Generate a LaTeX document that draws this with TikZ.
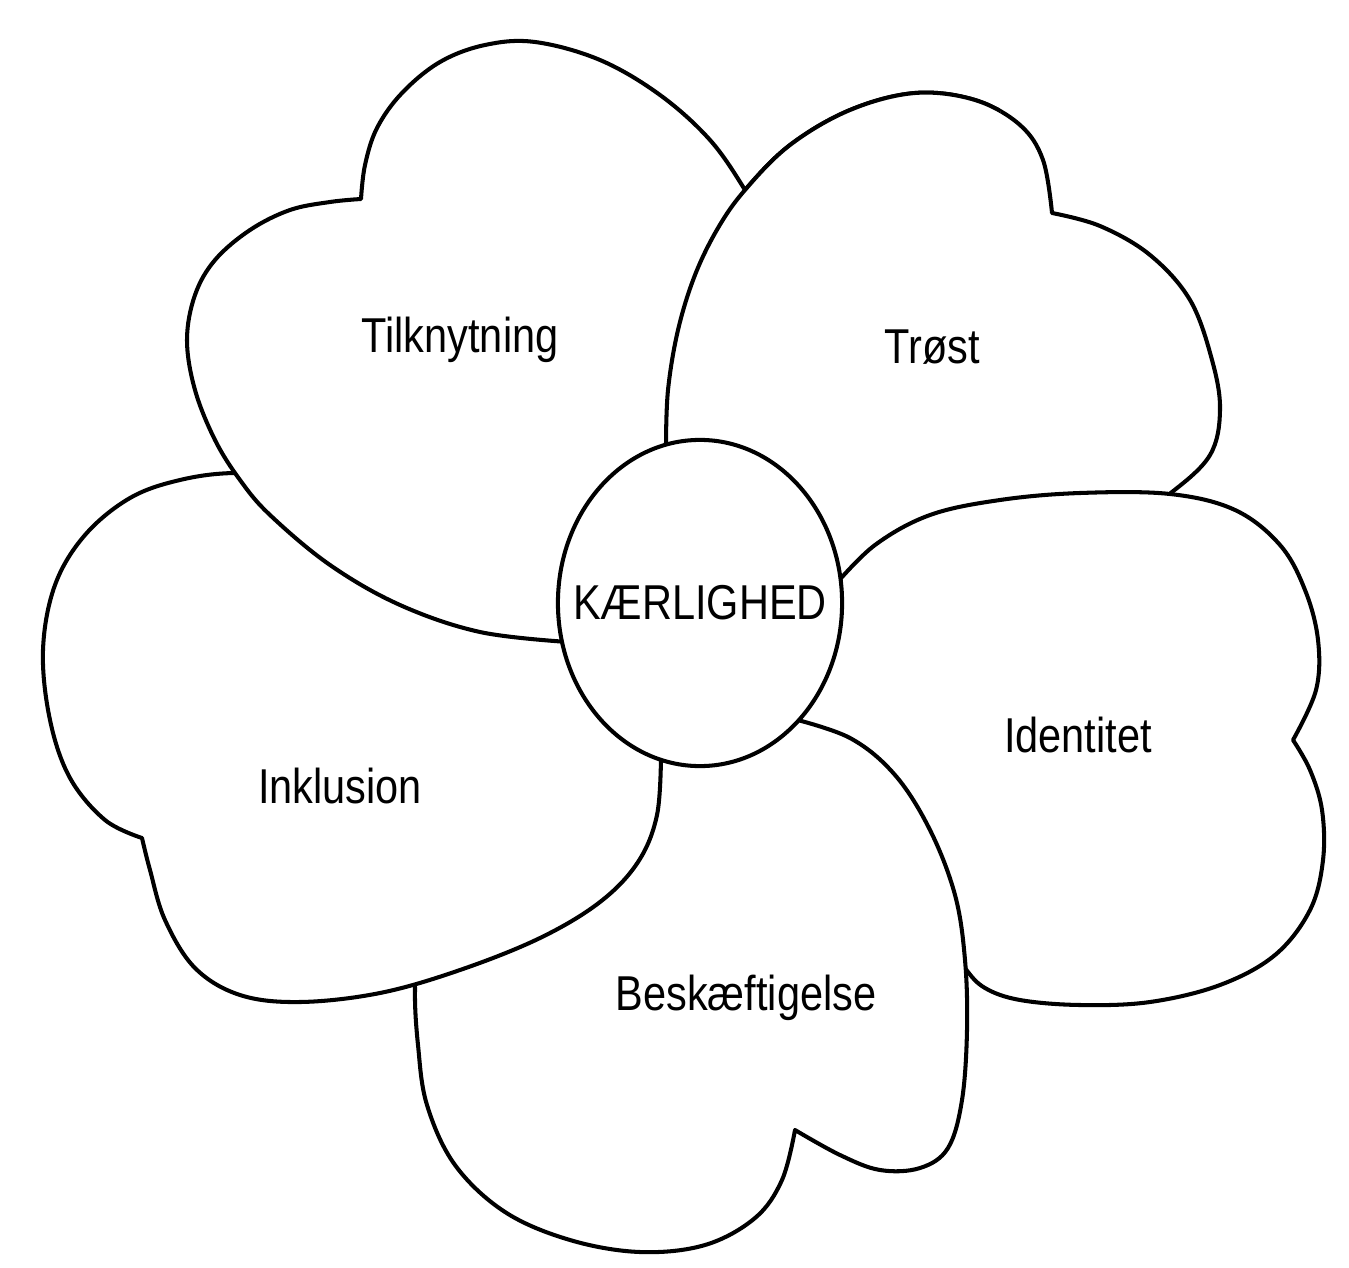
\documentclass[tikz,border=0pt]{standalone}
\usepackage{fontspec}
\setmainfont{Liberation Sans}
\usepackage{graphicx}
\usepackage{tikz}
\usetikzlibrary{shapes.geometric}

\tikzset{
  petal/.style={draw, fill=white, line width=1.15pt, line join=round},
  petaltext/.style={font=\fontsize{11.8}{14}\selectfont},
}
\newcommand\hoej[1]{\scalebox{1}[1.18]{#1}}
\newcommand\trostpath{(700,500) -- plot[smooth, tension=.6] coordinates {(666,445) (668,390) (678,330) (695,275) (718,228) (745,190) (790,145) (850,110) (915,93) (975,100) (1020,125) (1043,160) (1052,213)}
  -- plot[smooth, tension=.6] coordinates {(1052,213) (1100,226) (1150,255) (1190,300) (1212,360) (1220,410) (1210,455) (1172,492) (1130,518) (1000,545) (900,580) (800,570)} -- cycle}

\begin{document}
\begin{tikzpicture}[x=0.01cm, y=-0.01cm]
\useasboundingbox (0,0) rectangle (1349,1267);

\path[petal] \trostpath;

\path[petal] (780,640) -- plot[smooth, tension=.6] coordinates {(835,585) (875,545) (930,515) (1000,500) (1080,493) (1170,494) (1235,510) (1280,545) (1305,590) (1318,640) (1316,690) (1293,740)}
  -- plot[smooth, tension=.6] coordinates {(1293,740) (1310,770) (1322,810) (1323,860) (1310,910) (1275,955) (1220,985) (1150,1002) (1080,1005) (1020,1000) (985,988) (965,968) (945,935) (905,860) (850,790) (780,700)} -- cycle;

\path[petal] (720,700) -- plot[smooth, tension=.6] coordinates {(790,718) (850,738) (895,775) (930,830) (955,895) (965,960) (967,1030) (962,1100) (948,1148) (920,1168) (880,1170) (840,1155) (795,1130)}
  -- plot[smooth, tension=.6] coordinates {(795,1130) (782,1180) (755,1218) (705,1245) (640,1252) (570,1240) (505,1212) (455,1165) (427,1105) (418,1045) (415,990) (420,945) (490,870) (600,785) (690,730)} -- cycle;

\path[petal] (650,700) -- plot[smooth, tension=.6] coordinates {(661,755) (657,815) (638,862) (600,902) (540,938) (460,970) (380,993) (300,1002) (240,995) (195,968) (165,920) (150,870) (142,838)}
  -- plot[smooth, tension=.6] coordinates {(142,838) (105,820) (70,778) (50,720) (43,650) (55,585) (85,535) (130,498) (180,480) (235,473) (300,478) (400,525) (500,585) (580,640)} -- cycle;

\path[petal] (600,610) -- plot[smooth, tension=.6] coordinates {(568,642) (480,632) (400,605) (330,565) (270,515) (240,480) (215,440) (195,390) (187,340) (195,295) (215,260) (250,230) (290,210) (330,202) (361,199)}
  -- plot[smooth, tension=.6] coordinates {(361,199) (365,165) (377,128) (402,93) (440,62) (485,45) (535,42) (600,60) (660,95) (710,140) (745,190) (760,220) (730,300) (710,380) (690,450) (660,530)} -- cycle;

\begin{scope}
\clip (600,0) rectangle (1000,470);
\path[petal] \trostpath;
\end{scope}

\node[petal, ellipse, inner sep=0pt, minimum width=2.84cm, minimum height=3.26cm] (kaerlighed) at (700,603) {};
\node[petaltext] (kaerlighedtext) at (kaerlighed.center) {\hoej{KÆRLIGHED}};

\node[petaltext] (tilknytning) at (460,340) {\hoej{Tilknytning}};
\node[petaltext] (troest) at (932,347) {\hoej{Trøst}};
\node[petaltext] (identitet) at (1078,735) {\hoej{Identitet}};
\node[petaltext] (inklusion) at (340,786) {\hoej{Inklusion}};
\node[petaltext] (beskaeftigelse) at (746,998) {\hoej{Beskæftigelse}};
\end{tikzpicture}
\end{document}
